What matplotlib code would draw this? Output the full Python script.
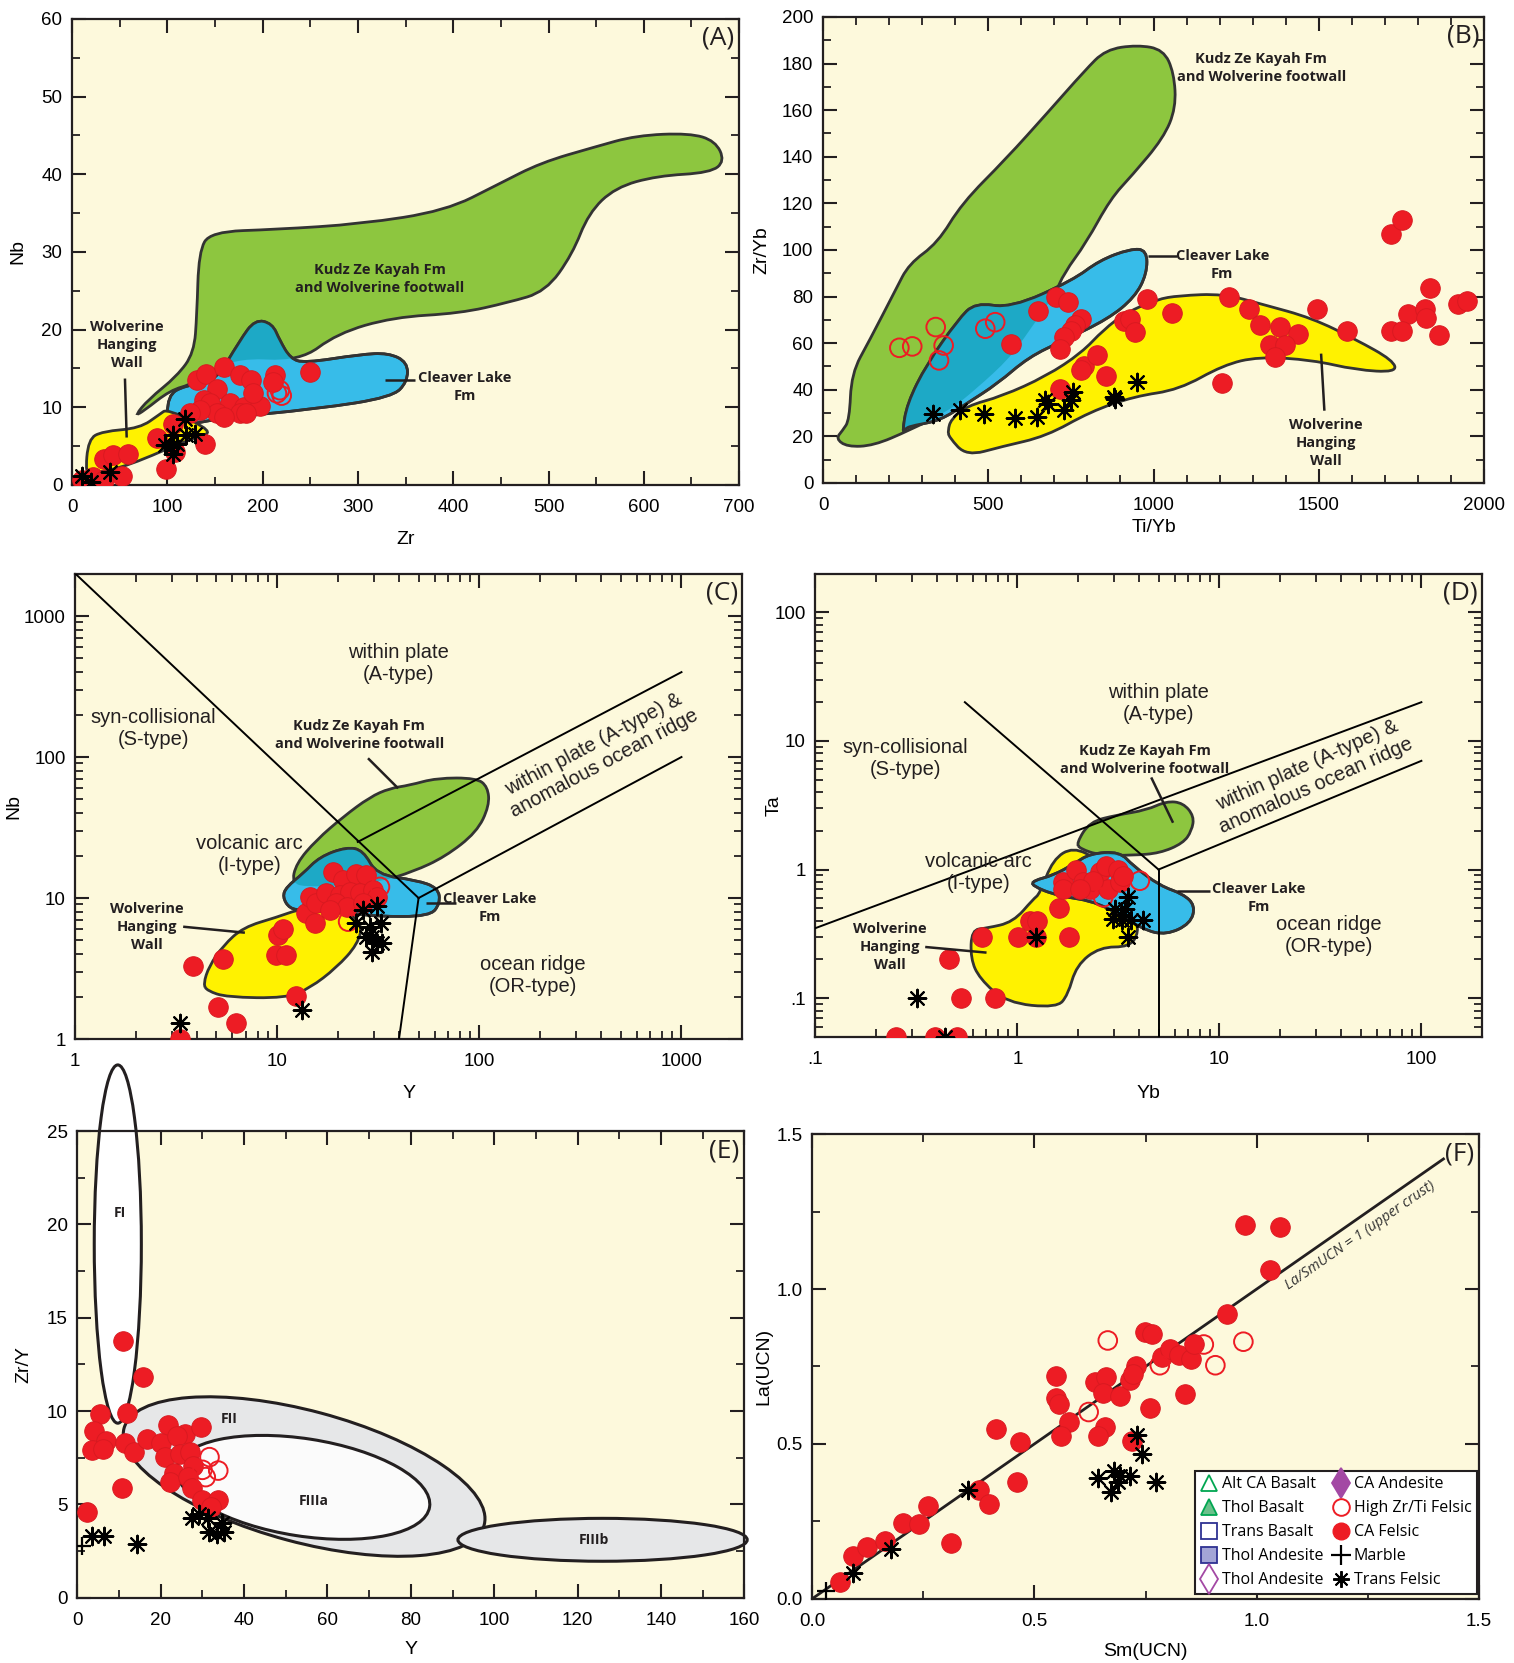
import numpy as np
import matplotlib
matplotlib.use('Agg')
import matplotlib.pyplot as plt
from matplotlib.path import Path
from matplotlib.patches import PathPatch, Ellipse
from matplotlib.transforms import Affine2D
from matplotlib.ticker import MultipleLocator, LogLocator, NullFormatter
from matplotlib.lines import Line2D

plt.rcParams['font.family'] = ['Liberation Sans', 'DejaVu Sans']
plt.rcParams['xtick.direction'] = 'in'
plt.rcParams['ytick.direction'] = 'in'
plt.rcParams['xtick.top'] = True
plt.rcParams['ytick.right'] = True

BG = '#FDF9DC'
GREEN = '#8DC63F'
BLUE = '#37BCE9'
TEAL = '#1DA9C6'
YELLOW = '#FFF200'
RED = '#ED1C24'
INK = '#231F20'
EDGE = '#333333'

# ---------------- (A) Nb vs Zr ----------------
a_felsic_zr = [10, 22, 33, 52, 33, 43, 59, 89, 99, 106, 108, 139, 131, 141, 159, 152, 176, 188, 213, 211,
               250, 138, 145, 166, 180, 197, 190, 152, 134, 124, 176, 159, 183]
a_felsic_nb = [0.6, 1.0, 0.6, 1.2, 3.4, 3.8, 4.0, 6.0, 2.1, 7.9, 4.2, 5.3, 13.5, 14.3, 15.2, 12.4, 14.1, 13.5, 14.1, 13.3,
               14.5, 10.9, 10.5, 10.5, 10.0, 10.2, 11.8, 9.2, 9.6, 9.2, 9.2, 8.7, 9.2]
a_hizr_zr = [215, 220, 218]
a_hizr_nb = [11.8, 11.5, 12.2]
a_trans_zr = [10, 20, 40, 118, 106, 97, 106, 110, 120, 129, 104]
a_trans_nb = [1.2, 0.4, 1.65, 8.5, 6.4, 5.1, 4.0, 5.3, 6.4, 6.6, 4.9]

a_kzk_zr = [66, 80, 110, 128, 131, 133, 145, 214, 303, 392, 447, 492, 548, 592, 648, 675, 685, 670, 614, 570,
            542, 525, 497, 458, 407, 337, 278, 239, 169, 127, 103, 75]
a_kzk_nb = [8.9, 11.0, 14.0, 17.0, 22.0, 30.0, 32.6, 32.9, 33.6, 35.3, 38.7, 41.5, 43.5, 45.0, 45.3, 44.3, 41.7, 40.2, 39.8, 38.3,
            35.0, 29.7, 24.9, 23.5, 22.1, 21.6, 19.5, 15.9, 16.4, 13.0, 12.2, 9.5]
a_clf_zr = [100, 100, 118, 150, 176, 192, 210, 218, 229, 244, 302, 332, 352, 352, 336, 258, 147, 102]
a_clf_nb = [7.0, 11.5, 12.8, 13.2, 18.6, 21.3, 20.8, 18.6, 16.3, 15.7, 16.8, 17.0, 15.8, 13.3, 11.3, 9.8, 8.5, 7.1]
a_whw_zr = [14, 17, 32, 71, 92, 100, 150, 127, 58, 22]
a_whw_nb = [1.3, 5.9, 6.9, 7.3, 9.1, 9.8, 6.8, 6.1, 2.4, 1.5]

# ---------------- (B) Zr/Yb vs Ti/Yb ----------------
b_felsic_ti = [568, 649, 705, 740, 780, 762, 749, 729, 716, 716, 789, 829, 856, 782, 910, 930, 943, 981, 1057, 1228,
               1207, 1289, 1321, 1382, 1436, 1352, 1398, 1369, 1496, 1586, 1720, 1753, 1838, 1771, 1820, 1823, 1720, 1753,
               1864, 1921, 1948]
b_felsic_zr = [59.7, 73.7, 80, 77.6, 70.4, 67.6, 65.4, 62.6, 57.6, 40.4, 50.4, 54.7, 46.1, 48.3, 69.7, 70.4, 64.7, 79, 72.9, 80,
               42.8, 74.7, 67.6, 66.9, 64, 59, 59, 54, 74.7, 65.2, 106.9, 112.9, 83.7, 72.6, 74.7, 70.9, 65.2, 65.2,
               63.7, 76.9, 78]
b_hizr_ti = [231, 270, 341, 365, 351, 491, 521]
b_hizr_zr = [58, 58.6, 66.9, 59, 52.6, 66.2, 69]
b_trans_ti = [334, 414, 488, 582, 646, 673, 682, 729, 749, 756, 879, 883, 951]
b_trans_zr = [29.7, 31.4, 29.4, 27.8, 28.5, 35.4, 34, 31.1, 35.7, 39, 36.8, 36.1, 43.3]

b_kzk_ti = [39, 59, 80, 86, 140, 220, 260, 347, 420, 553, 680, 792, 855, 951, 1030, 1062, 1068, 1030, 935, 870,
            796, 729, 702, 622, 568, 461, 381, 260, 153, 73]
b_kzk_zr = [19, 22.5, 27, 47, 61, 83, 94, 103, 120, 139, 159, 177, 186, 188, 186, 176, 161, 148, 132, 122,
            103, 90, 81, 65, 54, 40, 31, 22.5, 16, 15.5]
b_clf_ti = [240, 254, 314, 408, 461, 568, 756, 836, 930, 980, 980, 943, 863, 729, 622, 528, 434, 354, 274, 250]
b_clf_zr = [21.5, 34, 51, 70, 77.5, 75, 87, 95.5, 100.5, 100, 89.8, 79.7, 70.4, 61.2, 54, 42.6, 34, 26.8, 24.7, 23.5]
b_whw_ti = [381, 434, 541, 675, 809, 943, 1077, 1211, 1318, 1479, 1613, 1735, 1725, 1613, 1479, 1331, 1211, 1077, 1010, 916,
            849, 782, 675, 541, 434, 387, 378]
b_whw_zr = [19.7, 11.5, 15.6, 20.0, 30.6, 37.2, 40.0, 50.6, 54.2, 52.8, 48.5, 47.5, 52.6, 61.5, 70.8, 76.6, 81.2, 80.4, 78.8, 73,
            65.8, 55.8, 45.8, 37.2, 33, 27.2, 22.5]

# ---------------- (C) Nb vs Y ----------------
c_felsic_y = [3.30, 3.83, 5.40, 5.10, 6.21, 10.1, 10.7, 9.9, 11.0, 12.4, 13.8, 15.3, 14.5, 15.6, 18.9, 21.2, 24.6, 27.6,
              17.5, 20.4, 22.8, 25.6, 29.8, 31, 19.6, 22, 18.2, 26.6]
c_felsic_nb = [1.0, 3.31, 3.69, 1.70, 1.29, 5.47, 5.99, 3.94, 3.94, 2.02, 7.79, 6.61, 10.2, 9.17, 15.4, 13.4, 14.9, 14.6,
               10.8, 10.5, 11.1, 10.8, 11.4, 10.2, 9.17, 8.67, 8.22, 9.17]
c_hizr_y = [32.2, 22.4]
c_hizr_nb = [12.0, 6.8]
c_trans_y = [3.30, 13.3, 26.6, 31, 24.6, 28.7, 32.5, 29.3, 32.8, 29.3, 31, 27.6]
c_trans_nb = [1.29, 1.60, 8.22, 8.78, 6.61, 6.26, 6.61, 5.32, 4.77, 4.16, 4.77, 5.32]

c_kzk_y = [11.8, 12.4, 15.6, 21.2, 28.7, 36, 45, 61.4, 96.7, 110, 112, 97, 67.6, 47.1, 32, 20.2, 14.1]
c_kzk_nb = [12.7, 17.6, 25.8, 37.7, 52, 60, 63, 71, 71, 61.5, 45.1, 29.3, 19.6, 15.4, 13.0, 12.3, 12.0]
c_clf_y = [11.1, 10.6, 11.5, 13.4, 23.7, 31, 56.8, 64, 62.5, 48.8, 31, 26.6, 22, 16.2, 13.4]
c_clf_nb = [12.0, 10.2, 8.4, 8.2, 7.8, 7.4, 7.4, 9.17, 11.8, 13.4, 14.6, 21.8, 23, 19.6, 14.9]
c_whw_y = [4.3, 4.6, 5.40, 6.78, 9.9, 13.4, 20, 26.5, 25, 19.6, 14.5, 11.1, 5.61, 4.5]
c_whw_nb = [2.45, 3.3, 4.6, 6.2, 7.3, 8.5, 8.6, 6.7, 4.7, 3.2, 2.3, 1.95, 1.98, 2.2]

# ---------------- (D) Ta vs Yb ----------------
d_felsic_yb = [0.25, 0.391, 0.50, 0.46, 0.525, 0.775, 0.666, 1.01, 1.24, 1.80, 1.15, 1.25, 1.61, 1.69, 1.69, 1.96,
               2.12, 2.29, 2.56, 2.76, 3.15, 2.81, 3.21, 2.37, 2.05, 3.34]
d_felsic_ta = [0.05, 0.05, 0.05, 0.2, 0.1, 0.1, 0.3, 0.3, 0.3, 0.3, 0.4, 0.4, 0.5, 0.794, 0.705, 1.0,
               0.794, 0.705, 0.95, 1.07, 1.0, 0.705, 0.794, 0.818, 0.705, 0.894]
d_hizr_yb = [4.04, 2.66]
d_hizr_ta = [0.818, 0.608]
d_trans_yb = [0.32, 0.438, 1.24, 3.54, 3.4, 3.04, 2.98, 3.28, 3.67, 4.19, 3.54, 3.25]
d_trans_ta = [0.1, 0.0495, 0.3, 0.608, 0.494, 0.494, 0.413, 0.402, 0.402, 0.402, 0.3, 0.44]

d_kzk_yb = [1.96, 2.28, 3.10, 4.36, 5.47, 6.61, 7.5, 7.3, 6.61, 5.07, 3.74, 2.56, 2.05]
d_kzk_ta = [1.6, 2.35, 2.65, 2.9, 3.4, 3.3, 2.6, 2.0, 1.6, 1.34, 1.29, 1.29, 1.45]
d_clf_yb = [1.20, 1.5, 1.9, 2.28, 3.21, 3.74, 5.07, 6.61, 7.6, 7.2, 5.47, 4.19, 2.56, 1.57, 1.18]
d_clf_ta = [0.82, 0.9, 1.1, 1.33, 1.38, 1.07, 0.749, 0.646, 0.525, 0.38, 0.31, 0.34, 0.557, 0.626, 0.749]
d_whw_yb = [0.65, 0.587, 0.594, 0.704, 0.954, 1.20, 1.29, 1.50, 1.89, 2.5, 3.5, 3.8, 4.0, 3.6, 2.56, 1.96, 1.78, 1.57, 0.884]
d_whw_ta = [0.142, 0.203, 0.34, 0.35, 0.39, 0.59, 0.646, 1.2, 1.5, 1.2, 0.8, 0.44, 0.327, 0.25, 0.25, 0.18, 0.106, 0.084, 0.092]

# ---------------- (E) Zr/Y vs Y ----------------
e_felsic_y = [10.9, 15.8, 5.5, 11.8, 4.1, 6.8, 3.4, 6.2, 11.5, 13.7, 16.7, 21.8, 25.9, 29.6, 20.1, 21.0, 24.0, 24.7,
              27.0, 27.8, 23.1, 22.3, 26.6, 27.4, 30.0, 33.8, 32.1, 10.7, 2.3]
e_felsic_zry = [13.75, 11.84, 9.83, 9.92, 8.91, 8.39, 7.92, 7.95, 8.3, 7.82, 8.49, 9.26, 8.78, 9.12, 8.3, 7.53, 8.64, 7.72,
                7.82, 7.06, 6.67, 6.2, 6.46, 5.9, 5.24, 5.25, 4.86, 5.9, 4.57]
e_hizr_y = [31.7, 33.8, 30.8, 30.0]
e_hizr_zry = [7.53, 6.81, 6.46, 6.85]
e_trans_y = [3.4, 6.4, 14.3, 27.4, 29.1, 31.3, 34.7, 31.7, 33.4, 35.1]
e_trans_zry = [3.32, 3.32, 2.9, 4.28, 4.47, 4.28, 3.99, 3.52, 3.42, 3.52]
e_marble_y = [1.2]
e_marble_zry = [2.75]

# fields as (centre, half-axis vectors) in data units
e_fields = {
    'FI':    dict(c=(9.7, 18.95), u=(5.65, 0.0), v=(0.0, 9.6), fc='white', lab=(10.2, 20.6)),
    'FII':   dict(c=(54.4, 6.49), u=(43.2, -2.59), v=(4.09, 3.40), fc='#E6E7E8', lab=(36.5, 9.6)),
    'FIIIa': dict(c=(54.2, 5.91), u=(30.3, -1.05), v=(1.80, 2.58), fc='#FBFBFB', lab=(56.8, 5.2)),
    'FIIIb': dict(c=(126.0, 3.1), u=(34.7, 0.0), v=(0.0, 1.15), fc='#E6E7E8', lab=(124.0, 3.1)),
}

# ---------------- (F) La vs Sm (UCN) ----------------
f_felsic_sm = [0.063, 0.091, 0.123, 0.165, 0.204, 0.241, 0.260, 0.313, 0.376, 0.397, 0.414, 0.461, 0.467, 0.549,
               0.548, 0.555, 0.578, 0.560, 0.637, 0.662, 0.654, 0.692, 0.659, 0.643, 0.714, 0.729, 0.722, 0.720,
               0.748, 0.765, 0.761, 0.787, 0.804, 0.825, 0.853, 0.860, 0.839, 0.933, 0.974, 1.053, 1.029]
f_felsic_la = [0.054, 0.137, 0.166, 0.188, 0.244, 0.242, 0.301, 0.180, 0.352, 0.305, 0.549, 0.377, 0.506, 0.719,
               0.649, 0.630, 0.571, 0.525, 0.699, 0.716, 0.665, 0.656, 0.554, 0.527, 0.705, 0.751, 0.726, 0.511,
               0.861, 0.856, 0.616, 0.780, 0.807, 0.786, 0.775, 0.824, 0.662, 0.918, 1.207, 1.200, 1.063]
f_hizr_sm = [0.665, 0.622, 0.782, 0.881, 0.907, 0.970]
f_hizr_la = [0.834, 0.603, 0.754, 0.821, 0.754, 0.830]
f_trans_sm = [0.093, 0.178, 0.350, 0.643, 0.673, 0.680, 0.692, 0.714, 0.688, 0.730, 0.742, 0.773]
f_trans_la = [0.083, 0.161, 0.352, 0.390, 0.344, 0.414, 0.398, 0.398, 0.377, 0.528, 0.468, 0.377]
f_marble_sm = [0.031]
f_marble_la = [0.025]

legend_labels = ['Alt CA Basalt', 'Thol Basalt', 'Trans Basalt', 'Thol Andesite', 'Thol Andesite',
                 'CA Andesite', 'High Zr/Ti Felsic', 'CA Felsic', 'Marble', 'Trans Felsic']

ASTER = (8, 2, 0)


def smooth_field(ax, xs, ys, color, logx=False, logy=False, z=1, edge=True):
    # closed quadratic B-spline through the midpoints of the outline points
    x = np.log10(xs) if logx else np.asarray(xs, float)
    y = np.log10(ys) if logy else np.asarray(ys, float)
    pts = np.column_stack([x, y])
    mids = (pts + np.roll(pts, -1, axis=0)) / 2
    verts = [mids[-1]]
    codes = [Path.MOVETO]
    for p, m in zip(pts, mids):
        verts += [p, m]
        codes += [Path.CURVE3, Path.CURVE3]
    verts = np.array(verts)
    if logx:
        verts[:, 0] = 10 ** verts[:, 0]
    if logy:
        verts[:, 1] = 10 ** verts[:, 1]
    patch = PathPatch(Path(verts, codes), facecolor=color,
                      edgecolor=EDGE if edge else 'none', lw=2.0, zorder=z)
    ax.add_patch(patch)
    return patch


def overlap(ax, top, bottom_patch, xs, ys, logx=False, logy=False):
    p = smooth_field(ax, xs, ys, TEAL, logx, logy, z=top, edge=False)
    p.set_clip_path(bottom_patch)
    # redraw outline of the upper field on top
    return smooth_field(ax, xs, ys, 'none', logx, logy, z=top + 0.1)


def points(ax, fx, fy, ox, oy, tx, ty, mx=None, my=None):
    ax.scatter(fx, fy, s=200, color=RED, edgecolor='#D71920', lw=0.6, zorder=6)
    ax.scatter(ox, oy, s=180, facecolor='none', edgecolor=RED, lw=1.4, zorder=6)
    ax.scatter(tx, ty, s=160, marker=ASTER, color='black', lw=1.5, zorder=7)
    if mx is not None:
        ax.scatter(mx, my, s=180, marker='+', color='black', lw=1.6, zorder=7)


def style(ax, letter, xlab, ylab, xl_y, yl_x):
    ax.set_facecolor(BG)
    for s in ax.spines.values():
        s.set_linewidth(1.6)
        s.set_color(INK)
    ax.tick_params(which='major', length=10, width=1.5, labelsize=13.5, color=INK)
    ax.tick_params(axis='x', which='major', pad=10)
    ax.tick_params(axis='y', which='major', pad=7)
    ax.tick_params(which='minor', length=5.5, width=1.3, color=INK)
    ax.text(0.993, 0.985, letter, transform=ax.transAxes, ha='right', va='top',
            fontsize=19, family=['Open Sans', 'DejaVu Sans'], color=INK, zorder=10)
    ax.set_xlabel(xlab, fontsize=14)
    ax.set_ylabel(ylab, fontsize=14)
    ax.xaxis.set_label_coords(0.5, xl_y)
    ax.yaxis.set_label_coords(yl_x, 0.5)


def field_label(ax, x, y, txt, size=10.5):
    ax.text(x, y, txt, ha='center', va='center', fontsize=size, fontweight='bold',
            family=['Open Sans', 'DejaVu Sans'], color=INK, linespacing=1.35, zorder=8)


def region_label(ax, x, y, txt, **kw):
    ax.text(x, y, txt, ha='center', va='center', fontsize=14.5, color=INK, linespacing=1.2, zorder=8, **kw)


def pointer(ax, xs, ys):
    ax.plot(xs, ys, color=INK, lw=1.8, zorder=8, solid_capstyle='butt')


fig = plt.figure(figsize=(15.14, 16.63), dpi=100)
axA = fig.add_axes([0.0476, 0.7084, 0.4406, 0.2802])
axB = fig.add_axes([0.5436, 0.7096, 0.4366, 0.2802])
axC = fig.add_axes([0.0497, 0.3752, 0.4406, 0.2799])
axD = fig.add_axes([0.5385, 0.3765, 0.4405, 0.2786])
axE = fig.add_axes([0.0511, 0.0393, 0.4405, 0.2805])
axF = fig.add_axes([0.5364, 0.0386, 0.4405, 0.2794])

# ---- A ----
ax = axA
style(ax, '(A)', 'Zr', 'Nb', -0.098, -0.068)
g = smooth_field(ax, a_kzk_zr, a_kzk_nb, GREEN, z=1)
smooth_field(ax, a_clf_zr, a_clf_nb, BLUE, z=2)
overlap(ax, 2.5, g, a_clf_zr, a_clf_nb)
smooth_field(ax, a_whw_zr, a_whw_nb, YELLOW, z=3)
field_label(ax, 323, 26.5, 'Kudz Ze Kayah Fm\nand Wolverine footwall')
field_label(ax, 57, 18.0, 'Wolverine\nHanging\nWall')
pointer(ax, [55.5, 57.3], [13.7, 6.1])
field_label(ax, 412, 12.6, 'Cleaver Lake\nFm')
pointer(ax, [328, 360], [13.5, 13.5])
points(ax, a_felsic_zr, a_felsic_nb, a_hizr_zr, a_hizr_nb, a_trans_zr, a_trans_nb)
ax.set_xlim(0, 700)
ax.set_ylim(0, 60)
ax.xaxis.set_major_locator(MultipleLocator(100))
ax.xaxis.set_minor_locator(MultipleLocator(50))
ax.yaxis.set_major_locator(MultipleLocator(10))
ax.yaxis.set_minor_locator(MultipleLocator(5))

# ---- B ----
ax = axB
style(ax, '(B)', 'Ti/Yb', 'Zr/Yb', -0.077, -0.079)
g = smooth_field(ax, b_kzk_ti, b_kzk_zr, GREEN, z=1)
smooth_field(ax, b_clf_ti, b_clf_zr, BLUE, z=2)
overlap(ax, 2.5, g, b_clf_ti, b_clf_zr)
smooth_field(ax, b_whw_ti, b_whw_zr, YELLOW, z=3)
field_label(ax, 1326, 178, 'Kudz Ze Kayah Fm\nand Wolverine footwall')
field_label(ax, 1208, 93.5, 'Cleaver Lake\nFm')
pointer(ax, [982, 1071], [97.6, 97.6])
field_label(ax, 1520, 17.0, 'Wolverine\nHanging\nWall')
pointer(ax, [1507, 1517], [55.5, 31])
points(ax, b_felsic_ti, b_felsic_zr, b_hizr_ti, b_hizr_zr, b_trans_ti, b_trans_zr)
ax.set_xlim(0, 2000)
ax.set_ylim(0, 200)
ax.xaxis.set_major_locator(MultipleLocator(500))
ax.xaxis.set_minor_locator(MultipleLocator(100))
ax.yaxis.set_major_locator(MultipleLocator(20))
ax.yaxis.set_minor_locator(MultipleLocator(10))

# ---- C ----
ax = axC
ax.set_xscale('log')
ax.set_yscale('log')
style(ax, '(C)', 'Y', 'Nb', -0.098, -0.080)
smooth_field(ax, c_whw_y, c_whw_nb, YELLOW, True, True, z=1)
g = smooth_field(ax, c_kzk_y, c_kzk_nb, GREEN, True, True, z=1.5)
smooth_field(ax, c_clf_y, c_clf_nb, BLUE, True, True, z=2)
overlap(ax, 2.5, g, c_clf_y, c_clf_nb, True, True)
c_lines = [([1, 50], [2000, 10]), ([25, 1000], [25, 400]), ([50, 1000], [10, 100]), ([50, 40], [10, 1])]
for lx, ly in c_lines:
    ax.plot(lx, ly, color='black', lw=1.4, zorder=4)
region_label(ax, 39.6, 460, 'within plate\n(A-type)')
region_label(ax, 2.43, 160, 'syn-collisional\n(S-type)')
region_label(ax, 7.3, 20.2, 'volcanic arc\n(I-type)')
region_label(ax, 184, 2.83, 'ocean ridge\n(OR-type)')
region_label(ax, 390, 105, 'within plate (A-type) &\nanomalous ocean ridge', rotation=28, rotation_mode='anchor')
field_label(ax, 25.4, 143, 'Kudz Ze Kayah Fm\nand Wolverine footwall')
pointer(ax, [28.1, 39.6], [98, 60])
field_label(ax, 2.27, 6.26, 'Wolverine\nHanging\nWall')
pointer(ax, [3.42, 6.91], [6.26, 5.68])
field_label(ax, 113, 8.45, 'Cleaver Lake\nFm')
pointer(ax, [54.7, 77], [9.27, 9.27])
points(ax, c_felsic_y, c_felsic_nb, c_hizr_y, c_hizr_nb, c_trans_y, c_trans_nb)
ax.set_xlim(1, 2000)
ax.set_ylim(1, 2000)
ax.set_xticks([1, 10, 100, 1000], ['1', '10', '100', '1000'])
ax.set_yticks([1, 10, 100, 1000], ['1', '10', '100', '1000'])
for axis in (ax.xaxis, ax.yaxis):
    axis.set_minor_locator(LogLocator(base=10, subs=np.arange(2, 10)))
    axis.set_minor_formatter(NullFormatter())

# ---- D ----
ax = axD
ax.set_xscale('log')
ax.set_yscale('log')
style(ax, '(D)', 'Yb', 'Ta', -0.103, -0.049)
smooth_field(ax, d_whw_yb, d_whw_ta, YELLOW, True, True, z=1)
g = smooth_field(ax, d_kzk_yb, d_kzk_ta, GREEN, True, True, z=1.5)
smooth_field(ax, d_clf_yb, d_clf_ta, BLUE, True, True, z=2)
overlap(ax, 2.5, g, d_clf_yb, d_clf_ta, True, True)
d_lines = [([0.55, 3, 5], [20, 2, 1]), ([0.1, 100], [0.35, 20]), ([5, 100], [1, 7]), ([5, 5], [1, 0.05])]
for lx, ly in d_lines:
    ax.plot(lx, ly, color='black', lw=1.4, zorder=4)
region_label(ax, 4.98, 19.6, 'within plate\n(A-type)')
region_label(ax, 0.278, 7.35, 'syn-collisional\n(S-type)')
region_label(ax, 0.64, 0.95, 'volcanic arc\n(I-type)')
region_label(ax, 34.9, 0.305, 'ocean ridge\n(OR-type)')
region_label(ax, 28.5, 5.4, 'within plate (A-type) &\nanomalous ocean ridge', rotation=24, rotation_mode='anchor')
field_label(ax, 4.27, 7.13, 'Kudz Ze Kayah Fm\nand Wolverine footwall')
pointer(ax, [4.6, 5.9], [5.2, 2.31])
field_label(ax, 0.234, 0.25, 'Wolverine\nHanging\nWall')
pointer(ax, [0.35, 0.704], [0.25, 0.226])
field_label(ax, 15.6, 0.60, 'Cleaver Lake\nFm')
pointer(ax, [6.15, 8.97], [0.685, 0.685])
points(ax, d_felsic_yb, d_felsic_ta, d_hizr_yb, d_hizr_ta, d_trans_yb, d_trans_ta)
ax.set_xlim(0.1, 200)
ax.set_ylim(0.05, 200)
ax.set_xticks([0.1, 1, 10, 100], ['.1', '1', '10', '100'])
ax.set_yticks([0.1, 1, 10, 100], ['.1', '1', '10', '100'])
for axis in (ax.xaxis, ax.yaxis):
    axis.set_minor_locator(LogLocator(base=10, subs=np.arange(2, 10)))
    axis.set_minor_formatter(NullFormatter())

# ---- E ----
ax = axE
style(ax, '(E)', 'Y', 'Zr/Y', -0.093, -0.068)
for name, f in e_fields.items():
    m = np.array([[f['u'][0], f['v'][0], f['c'][0]],
                  [f['u'][1], f['v'][1], f['c'][1]],
                  [0, 0, 1]])
    z = {'FII': 1, 'FIIIa': 1.5, 'FI': 2, 'FIIIb': 2}[name]
    e = Ellipse((0, 0), 2, 2, facecolor=f['fc'], edgecolor=INK, lw=2.2, zorder=z, clip_on=False,
                transform=Affine2D(m) + ax.transData)
    ax.add_patch(e)
    field_label(ax, f['lab'][0], f['lab'][1], name, size=10)
points(ax, e_felsic_y, e_felsic_zry, e_hizr_y, e_hizr_zry, e_trans_y, e_trans_zry, e_marble_y, e_marble_zry)
ax.set_xlim(0, 160)
ax.set_ylim(0, 25)
ax.xaxis.set_major_locator(MultipleLocator(20))
ax.xaxis.set_minor_locator(MultipleLocator(10))
ax.yaxis.set_major_locator(MultipleLocator(5))
ax.yaxis.set_minor_locator(MultipleLocator(2.5))

# ---- F ----
ax = axF
style(ax, '(F)', 'Sm(UCN)', 'La(UCN)', -0.096, -0.059)
ax.plot([0, 1.42], [0, 1.42], color=INK, lw=2.0, zorder=4)
ax.text(1.232, 1.173, 'La/SmUCN = 1 (upper crust)', rotation=34.9, rotation_mode='anchor', ha='center', va='center',
        fontsize=10.5, style='italic', family=['Open Sans', 'DejaVu Sans'], color='#333333', zorder=8)
points(ax, f_felsic_sm, f_felsic_la, f_hizr_sm, f_hizr_la, f_trans_sm, f_trans_la, f_marble_sm, f_marble_la)
ax.set_xlim(0, 1.5)
ax.set_ylim(0, 1.5)
ax.xaxis.set_major_locator(MultipleLocator(0.5))
ax.xaxis.set_minor_locator(MultipleLocator(0.25))
ax.yaxis.set_major_locator(MultipleLocator(0.5))
ax.yaxis.set_minor_locator(MultipleLocator(0.25))

green_e = '#00A651'
purple = '#A349A4'
navy = '#2E3192'
ms = 12
handles = [
    Line2D([], [], ls='none', marker='^', ms=ms, mfc='none', mec=green_e, mew=1.3),
    Line2D([], [], ls='none', marker='^', ms=ms, mfc='#6CC08B', mec=green_e, mew=1.3),
    Line2D([], [], ls='none', marker='s', ms=ms - 1, mfc='none', mec=navy, mew=1.3),
    Line2D([], [], ls='none', marker='s', ms=ms - 1, mfc='#A3A5D6', mec=navy, mew=1.3),
    Line2D([], [], ls='none', marker='d', ms=ms + 3, mfc='none', mec=purple, mew=1.3),
    Line2D([], [], ls='none', marker='d', ms=ms + 3, mfc=purple, mec=purple, mew=1.3),
    Line2D([], [], ls='none', marker='o', ms=ms, mfc='none', mec=RED, mew=1.4),
    Line2D([], [], ls='none', marker='o', ms=ms, mfc=RED, mec=RED),
    Line2D([], [], ls='none', marker='+', ms=ms + 2, color='black', mew=1.6),
    Line2D([], [], ls='none', marker=ASTER, ms=ms, color='black', mew=1.4),
]
leg = ax.legend(handles, legend_labels, ncol=2, loc='lower right', bbox_to_anchor=(0.997, 0.011),
                borderaxespad=0, frameon=True, fancybox=False, framealpha=1, edgecolor=INK,
                prop={'family': ['Open Sans', 'DejaVu Sans'], 'size': 11.5},
                handlelength=1.0, handletextpad=0.3, columnspacing=0.6, labelspacing=0.5, borderpad=0.35)
leg.get_frame().set_linewidth(1.5)
leg.set_zorder(9)

fig.savefig('out.png', dpi=100, facecolor='white')
